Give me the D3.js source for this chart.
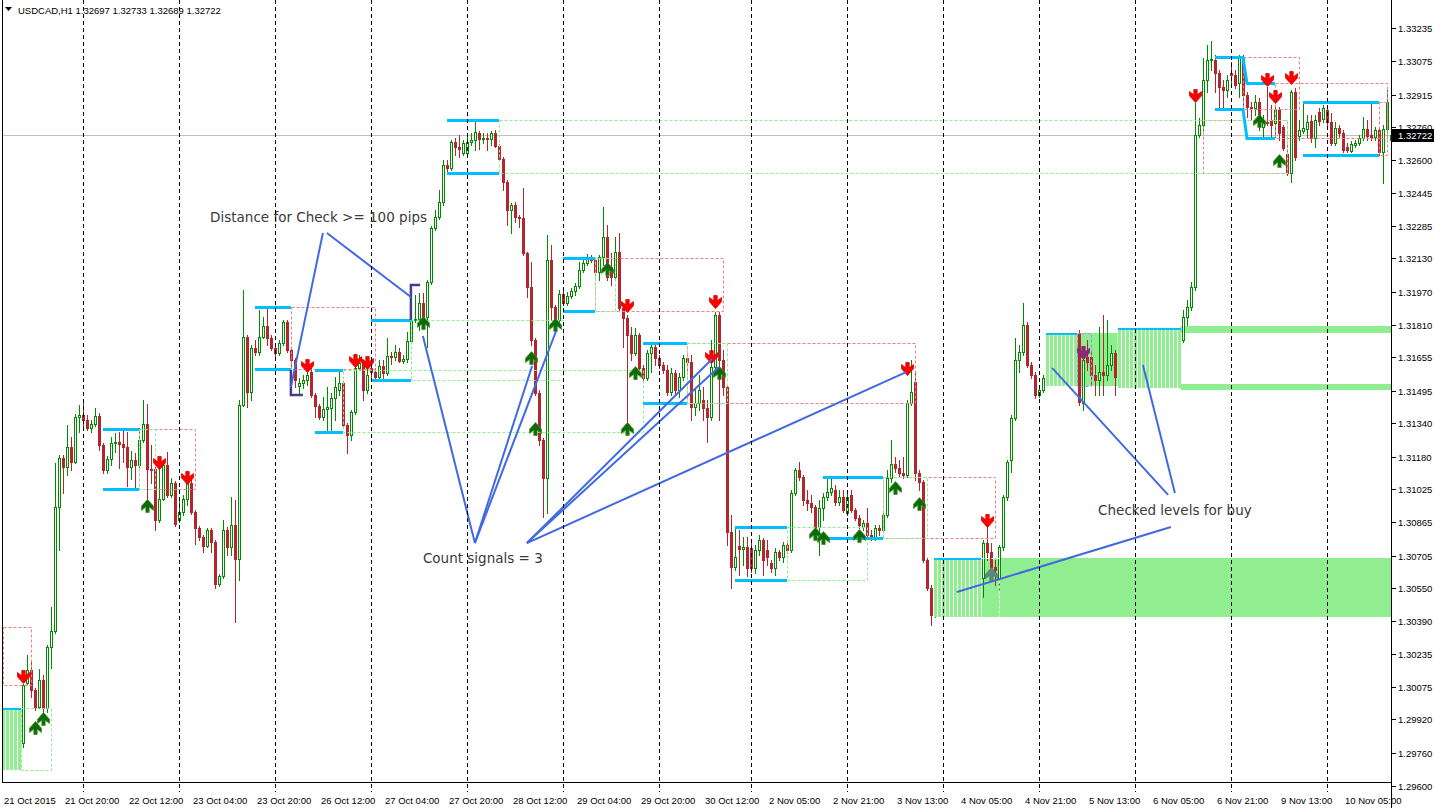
<!DOCTYPE html>
<html><head><meta charset="utf-8">
<script src="https://cdn.jsdelivr.net/npm/d3@7"></script>
<style>html,body{margin:0;padding:0;background:#fff;}svg{display:block;}</style>
</head><body>
<svg id="chart" width="1434" height="808"></svg>
<script>
// ---------------- DATA ----------------
const symbolName = "USDCAD,H1";
const priceTicks = ["1.33235","1.33075","1.32915","1.32760","1.32600","1.32445","1.32285","1.32130","1.31970","1.31810","1.31655","1.31495","1.31340","1.31180","1.31025","1.30865","1.30705","1.30550","1.30390","1.30235","1.30075","1.29920","1.29760","1.29600"];
const timeLabelText = ["21 Oct 2015","21 Oct 20:00","22 Oct 12:00","23 Oct 04:00","23 Oct 20:00","26 Oct 12:00","27 Oct 04:00","27 Oct 20:00","28 Oct 12:00","29 Oct 04:00","29 Oct 20:00","30 Oct 12:00","2 Nov 05:00","2 Nov 21:00","3 Nov 13:00","4 Nov 05:00","4 Nov 21:00","5 Nov 13:00","6 Nov 05:00","6 Nov 21:00","9 Nov 13:00","10 Nov 05:00"];
const timeLabelBar = [0,16,32,48,64,80,96,112,128,144,160,176,192,208,224,240,256,272,288,304,320,336];
const daySeparatorBar = [20,44,68,92,116,140,164,187,211,235,259,283,307,331];

const open = [1.29821,1.29773,1.29821,1.29869,1.29845,1.29807,1.30094,1.30156,1.30060,1.29978,
1.30108,1.29974,1.30266,1.30343,1.30938,1.31173,1.31129,1.31225,1.31153,1.31369,
1.31379,1.31355,1.31317,1.31336,1.31374,1.31235,1.31115,1.31168,1.31245,1.31249,
1.31240,1.31225,1.31129,1.31163,1.31139,1.31259,1.31336,1.31120,1.31120,1.30876,
1.30976,1.31139,1.30995,1.31053,1.30876,1.30914,1.30976,1.31053,1.30914,1.30838,
1.30794,1.30751,1.30828,1.30770,1.30569,1.30607,1.30828,1.30746,1.30852,1.30689,
1.31427,1.31753,1.31489,1.31701,1.31681,1.31753,1.31806,1.31749,1.31701,1.31677,
1.31725,1.31825,1.31691,1.31643,1.31518,1.31533,1.31547,1.31585,1.31475,1.31422,
1.31369,1.31408,1.31413,1.31461,1.31499,1.31533,1.31331,1.31283,1.31393,1.31605,
1.31629,1.31499,1.31605,1.31585,1.31561,1.31614,1.31581,1.31662,1.31657,1.31681,
1.31638,1.31648,1.31734,1.31835,1.31840,1.31917,1.31849,1.32017,1.32276,1.32328,
1.32400,1.32578,1.32564,1.32688,1.32664,1.32636,1.32636,1.32688,1.32698,1.32732,
1.32703,1.32708,1.32703,1.32732,1.32669,1.32607,1.32496,1.32362,1.32386,1.32328,
1.32324,1.32156,1.31993,1.31739,1.31485,1.31259,1.31077,1.32122,1.31897,1.31835,
1.31960,1.31917,1.31950,1.31974,1.31998,1.32075,1.32108,1.32132,1.32122,1.32065,
1.32136,1.32232,1.32088,1.32041,1.32160,1.31893,1.31845,1.31763,1.31677,1.31763,
1.31605,1.31557,1.31677,1.31705,1.31653,1.31619,1.31595,1.31489,1.31581,1.31499,
1.31561,1.31653,1.31633,1.31417,1.31437,1.31451,1.31413,1.31369,1.31609,1.31859,
1.31643,1.31513,1.30818,1.30650,1.30751,1.30737,1.30746,1.30742,1.30646,1.30732,
1.30780,1.30732,1.30670,1.30646,1.30722,1.30698,1.30756,1.30732,1.31005,1.31115,
1.31081,1.30972,1.30958,1.30938,1.30842,1.30934,1.30985,1.31009,1.31019,1.30962,
1.30985,1.30910,1.30995,1.30924,1.30886,1.30842,1.30862,1.30804,1.30794,1.30838,
1.30828,1.30900,1.31077,1.31144,1.31125,1.31101,1.31091,1.31437,1.31537,1.31101,
1.31057,1.30684,1.30550,1.30420,1.30468,1.30492,1.30516,1.30540,1.30564,1.30540,
1.30516,1.30540,1.30564,1.30588,1.30564,1.30598,1.30766,1.30722,1.30650,1.30598,
1.30746,1.30985,1.31163,1.31365,1.31643,1.31681,1.31811,1.31619,1.31571,1.31475,
1.31499,1.31557,1.31585,1.31619,1.31643,1.31667,1.31691,1.31662,1.31701,1.31773,
1.31437,1.31657,1.31657,1.31571,1.31547,1.31585,1.31571,1.31619,1.31677,1.31561,
1.31595,1.31619,1.31643,1.31633,1.31653,1.31681,1.31667,1.31643,1.31662,1.31691,
1.31681,1.31662,1.31691,1.31715,1.31701,1.31739,1.31849,1.31897,1.31993,1.32722,
1.32770,1.32986,1.33082,1.33082,1.33020,1.32952,1.32938,1.33020,1.33010,1.32972,
1.33092,1.32914,1.32856,1.32852,1.32880,1.32760,1.32784,1.32794,1.32780,1.32842,
1.32760,1.32631,1.32540,1.32928,1.32717,1.32741,1.32751,1.32789,1.32708,1.32832,
1.32799,1.32842,1.32784,1.32684,1.32756,1.32732,1.32664,1.32645,1.32674,1.32684,
1.32708,1.32751,1.32722,1.32712,1.32746,1.32640,1.32751,1.32697];

const high = [1.29869,1.29845,1.29893,1.29940,1.29917,1.30089,1.30228,1.30204,1.30070,1.30161,
1.30132,1.30276,1.30458,1.31149,1.31187,1.31187,1.31331,1.31273,1.31384,1.31427,
1.31437,1.31379,1.31355,1.31413,1.31389,1.31245,1.31182,1.31273,1.31293,1.31297,
1.31307,1.31297,1.31206,1.31197,1.31317,1.31451,1.31432,1.31235,1.31129,1.31153,
1.31163,1.31201,1.31077,1.31062,1.30981,1.30995,1.31101,1.31067,1.30924,1.30847,
1.30804,1.30838,1.30838,1.30780,1.30617,1.30876,1.30842,1.30985,1.30972,1.31451,
1.31979,1.31763,1.31715,1.31739,1.31883,1.31849,1.31893,1.31763,1.31715,1.31739,
1.31835,1.31835,1.31701,1.31653,1.31557,1.31571,1.31619,1.31605,1.31485,1.31432,
1.31465,1.31513,1.31485,1.31561,1.31595,1.31542,1.31341,1.31403,1.31619,1.31667,
1.31643,1.31619,1.31619,1.31605,1.31643,1.31643,1.31749,1.31681,1.31715,1.31701,
1.31667,1.31777,1.31907,1.31955,1.31965,1.31965,1.32027,1.32285,1.32362,1.32458,
1.32602,1.32602,1.32698,1.32708,1.32722,1.32698,1.32722,1.32732,1.32789,1.32741,
1.32732,1.32732,1.32741,1.32746,1.32679,1.32616,1.32506,1.32396,1.32400,1.32338,
1.32468,1.32160,1.32112,1.31749,1.31499,1.31269,1.32242,1.32194,1.31907,1.31979,
1.31979,1.31969,1.31989,1.32013,1.32112,1.32132,1.32151,1.32146,1.32132,1.32146,
1.32376,1.32290,1.32156,1.32232,1.32252,1.31907,1.31859,1.31801,1.31797,1.31773,
1.31619,1.31691,1.31729,1.31725,1.31667,1.31633,1.31619,1.31605,1.31595,1.31581,
1.31667,1.31667,1.31667,1.31509,1.31571,1.31513,1.31451,1.31739,1.31873,1.31873,
1.31691,1.31523,1.30900,1.30842,1.30828,1.30794,1.30794,1.30780,1.30756,1.30804,
1.30790,1.30780,1.30684,1.30742,1.30732,1.30770,1.30780,1.31019,1.31125,1.31153,
1.31091,1.31019,1.30995,1.30948,1.30972,1.31005,1.31077,1.31077,1.31043,1.31019,
1.31019,1.31009,1.31019,1.30934,1.30900,1.30876,1.30934,1.30828,1.30852,1.30852,
1.30910,1.31115,1.31259,1.31177,1.31163,1.31177,1.31451,1.31643,1.31581,1.31115,
1.31067,1.30694,1.30564,1.30492,1.30516,1.30540,1.30564,1.30588,1.30598,1.30578,
1.30564,1.30588,1.30612,1.30626,1.30612,1.30780,1.30842,1.30766,1.30684,1.30756,
1.30995,1.31163,1.31379,1.31749,1.31715,1.31917,1.31825,1.31633,1.31585,1.31523,
1.31571,1.31595,1.31643,1.31667,1.31691,1.31715,1.31729,1.31715,1.31749,1.31787,
1.31667,1.31739,1.31691,1.31619,1.31801,1.31859,1.31835,1.31715,1.31691,1.31619,
1.31643,1.31681,1.31691,1.31681,1.31701,1.31725,1.31715,1.31691,1.31715,1.31739,
1.31729,1.31710,1.31739,1.31763,1.31763,1.31883,1.31931,1.32017,1.32876,1.32804,
1.33092,1.33153,1.33172,1.33106,1.33034,1.32986,1.33010,1.33072,1.33034,1.33106,
1.33106,1.32928,1.32880,1.32914,1.32900,1.32818,1.32952,1.32866,1.32866,1.32856,
1.32770,1.32684,1.32938,1.32948,1.32794,1.32880,1.32818,1.32818,1.32818,1.32852,
1.32866,1.32856,1.32828,1.32784,1.32770,1.32746,1.32684,1.32693,1.32698,1.32722,
1.32808,1.32794,1.32876,1.32760,1.32760,1.32770,1.32938,1.32733];

const low = [1.29725,1.29701,1.29773,1.29797,1.29763,1.29787,1.30089,1.30026,1.29964,1.29974,
1.29954,1.29954,1.30166,1.30334,1.30732,1.31005,1.31091,1.31115,1.31149,1.31297,
1.31321,1.31307,1.31297,1.31326,1.31211,1.31101,1.31101,1.31139,1.31201,1.31125,
1.31153,1.31038,1.31072,1.31033,1.31129,1.31249,1.30972,1.31053,1.30828,1.30866,
1.30972,1.30985,1.30985,1.30847,1.30866,1.30900,1.30948,1.30905,1.30761,1.30780,
1.30722,1.30746,1.30722,1.30550,1.30559,1.30598,1.30708,1.30708,1.30386,1.30588,
1.31422,1.31417,1.31451,1.31667,1.31667,1.31749,1.31715,1.31691,1.31653,1.31667,
1.31715,1.31681,1.31605,1.31513,1.31485,1.31509,1.31523,1.31465,1.31369,1.31360,
1.31355,1.31302,1.31302,1.31355,1.31475,1.31321,1.31197,1.31259,1.31384,1.31595,
1.31451,1.31485,1.31557,1.31547,1.31547,1.31557,1.31571,1.31624,1.31643,1.31633,
1.31629,1.31633,1.31725,1.31825,1.31787,1.31835,1.31705,1.32008,1.32266,1.32319,
1.32386,1.32544,1.32554,1.32626,1.32616,1.32626,1.32626,1.32674,1.32650,1.32655,
1.32684,1.32650,1.32674,1.32664,1.32602,1.32458,1.32290,1.32252,1.32304,1.32280,
1.32146,1.31945,1.31715,1.31475,1.31235,1.30890,1.30910,1.31835,1.31821,1.31811,
1.31907,1.31907,1.31941,1.31955,1.31989,1.32065,1.32098,1.32112,1.32051,1.32027,
1.32098,1.32027,1.32003,1.32027,1.31883,1.31705,1.31341,1.31643,1.31667,1.31595,
1.31547,1.31547,1.31585,1.31619,1.31605,1.31581,1.31475,1.31475,1.31475,1.31465,
1.31547,1.31595,1.31355,1.31379,1.31403,1.31355,1.31249,1.31355,1.31585,1.31355,
1.31475,1.30756,1.30550,1.30636,1.30612,1.30660,1.30607,1.30626,1.30622,1.30708,
1.30612,1.30660,1.30626,1.30612,1.30684,1.30674,1.30718,1.30722,1.30995,1.31067,
1.30948,1.30924,1.30914,1.30828,1.30708,1.30876,1.30972,1.30995,1.30948,1.30948,
1.30914,1.30900,1.30914,1.30876,1.30838,1.30828,1.30790,1.30780,1.30780,1.30804,
1.30818,1.30890,1.31057,1.31105,1.31086,1.31077,1.31081,1.31427,1.31067,1.31019,
1.30674,1.30540,1.30372,1.30410,1.30434,1.30454,1.30492,1.30502,1.30516,1.30492,
1.30468,1.30502,1.30516,1.30540,1.30516,1.30506,1.30684,1.30612,1.30564,1.30540,
1.30732,1.30972,1.31105,1.31355,1.31585,1.31667,1.31609,1.31557,1.31461,1.31465,
1.31489,1.31523,1.31547,1.31585,1.31605,1.31633,1.31643,1.31619,1.31667,1.31427,
1.31403,1.31595,1.31523,1.31475,1.31475,1.31475,1.31547,1.31595,1.31475,1.31523,
1.31557,1.31585,1.31595,1.31585,1.31614,1.31643,1.31619,1.31595,1.31624,1.31653,
1.31633,1.31614,1.31653,1.31667,1.31667,1.31729,1.31811,1.31883,1.31979,1.32712,
1.32746,1.32928,1.33034,1.32928,1.32852,1.32852,1.32904,1.32962,1.32948,1.32904,
1.32842,1.32808,1.32794,1.32818,1.32746,1.32712,1.32770,1.32712,1.32712,1.32698,
1.32650,1.32530,1.32496,1.32602,1.32698,1.32732,1.32712,1.32688,1.32664,1.32770,
1.32784,1.32770,1.32674,1.32674,1.32712,1.32640,1.32640,1.32640,1.32664,1.32674,
1.32698,1.32698,1.32698,1.32698,1.32626,1.32492,1.32741,1.32689];

const close = [1.29773,1.29821,1.29869,1.29845,1.29807,1.30084,1.30156,1.30060,1.29978,1.30108,
1.29974,1.30266,1.30343,1.30938,1.31173,1.31129,1.31225,1.31153,1.31369,1.31379,
1.31355,1.31317,1.31336,1.31374,1.31235,1.31115,1.31168,1.31245,1.31249,1.31240,
1.31225,1.31129,1.31163,1.31139,1.31259,1.31336,1.31120,1.31115,1.30876,1.30976,
1.31139,1.30995,1.31053,1.30857,1.30914,1.30976,1.31053,1.30914,1.30838,1.30794,
1.30751,1.30828,1.30770,1.30569,1.30607,1.30828,1.30746,1.30852,1.30689,1.31427,
1.31753,1.31489,1.31701,1.31681,1.31753,1.31806,1.31749,1.31701,1.31677,1.31725,
1.31825,1.31691,1.31643,1.31547,1.31533,1.31547,1.31571,1.31475,1.31422,1.31369,
1.31408,1.31417,1.31461,1.31513,1.31533,1.31331,1.31283,1.31393,1.31605,1.31629,
1.31499,1.31571,1.31585,1.31561,1.31614,1.31581,1.31662,1.31657,1.31681,1.31638,
1.31648,1.31734,1.31835,1.31840,1.31917,1.31849,1.32017,1.32276,1.32328,1.32400,
1.32578,1.32564,1.32688,1.32664,1.32655,1.32684,1.32688,1.32698,1.32736,1.32703,
1.32708,1.32703,1.32732,1.32669,1.32607,1.32496,1.32362,1.32386,1.32328,1.32324,
1.32156,1.31993,1.31739,1.31485,1.31259,1.31077,1.32122,1.31897,1.31835,1.31960,
1.31917,1.31950,1.31974,1.31998,1.32075,1.32108,1.32132,1.32122,1.32065,1.32136,
1.32232,1.32041,1.32041,1.32160,1.31893,1.31845,1.31763,1.31677,1.31763,1.31605,
1.31557,1.31677,1.31705,1.31653,1.31619,1.31595,1.31489,1.31581,1.31499,1.31561,
1.31653,1.31633,1.31417,1.31437,1.31499,1.31413,1.31369,1.31609,1.31859,1.31643,
1.31513,1.30818,1.30650,1.30698,1.30737,1.30746,1.30646,1.30646,1.30732,1.30780,
1.30684,1.30698,1.30646,1.30722,1.30698,1.30756,1.30732,1.31005,1.31115,1.31081,
1.30972,1.30958,1.30938,1.30842,1.30934,1.30985,1.31009,1.31029,1.30962,1.30985,
1.30924,1.30985,1.30924,1.30886,1.30852,1.30862,1.30804,1.30794,1.30838,1.30828,
1.30900,1.31077,1.31144,1.31125,1.31101,1.31091,1.31437,1.31489,1.31101,1.31057,
1.30684,1.30550,1.30420,1.30468,1.30492,1.30516,1.30540,1.30564,1.30540,1.30516,
1.30540,1.30564,1.30588,1.30564,1.30598,1.30766,1.30722,1.30650,1.30636,1.30746,
1.30985,1.31153,1.31365,1.31643,1.31681,1.31811,1.31619,1.31571,1.31475,1.31499,
1.31557,1.31585,1.31619,1.31643,1.31667,1.31691,1.31662,1.31701,1.31739,1.31441,
1.31643,1.31633,1.31571,1.31547,1.31585,1.31571,1.31619,1.31677,1.31561,1.31595,
1.31619,1.31643,1.31633,1.31653,1.31681,1.31667,1.31643,1.31662,1.31691,1.31681,
1.31662,1.31691,1.31715,1.31701,1.31739,1.31849,1.31897,1.31993,1.32722,1.32770,
1.32986,1.33082,1.33087,1.33020,1.32952,1.32938,1.32986,1.33010,1.32962,1.33092,
1.32914,1.32856,1.32852,1.32880,1.32794,1.32784,1.32780,1.32770,1.32842,1.32732,
1.32660,1.32540,1.32928,1.32616,1.32746,1.32756,1.32784,1.32708,1.32794,1.32789,
1.32852,1.32784,1.32684,1.32756,1.32732,1.32650,1.32650,1.32679,1.32684,1.32708,
1.32751,1.32717,1.32712,1.32746,1.32640,1.32751,1.32880,1.32722];

// level lines [fromBar, toBar, price]
const levelLines = [[25,34,1.31312],[25,34,1.31024],[63,72,1.31897],[63,72,1.31600],
[78,85,1.31595],[78,85,1.31298],[92,102,1.31835],[92,102,1.31547],
[111,124,1.32794],[111,124,1.32540],[140,148,1.32132],[140,148,1.31878],
[160,171,1.31724],[160,171,1.31437],[183,196,1.30842],[183,196,1.30588],
[205,220,1.31082],[205,220,1.30789],[325,344,1.32880],[325,344,1.32626]];
const stepLineStart = 303;
const stepUpper = [1.33096,1.33096,1.33096,1.33096,1.33096,1.33096,1.33096,1.33096,1.32973,1.32973,1.32973,1.32973,1.32973,1.32973,1.32973,1.32973];
const stepLower = [1.32847,1.32847,1.32847,1.32847,1.32847,1.32847,1.32847,1.32847,1.32709,1.32709,1.32709,1.32709,1.32709,1.32709,1.32709,1.32709];
// dashed boxes [fromBar, toBar, topPrice, bottomPrice]
const redBoxes = [[300,321,1.32794,1.32540],[0,7,1.30362,1.30084],[34,48,1.31312,1.31024],[72,93,1.31897,1.31600],
[148,180,1.32132,1.31878],[171,228,1.31724,1.31437],[220,248,1.31082,1.30789],
[310,324,1.33096,1.32847],[318,346,1.32973,1.32709],[344,346,1.32880,1.32626]];
const greenBoxes = [[4.4,12,1.29974,1.29677],[34,38,1.31312,1.31024],[85,160,1.31595,1.31298],
[102,140,1.31835,1.31547],[124,321,1.32794,1.32540],[148,153,1.32132,1.31878],
[171,181,1.31724,1.31437],[196,216,1.30842,1.30588],[220,231,1.31082,1.30789]];
const purpleBoxes = [[268.5,272,1.31772,1.31518]];
const whiteBoxes = [[244.5,249,1.30693,1.30410]];
// histogram (striped) zones [fromBar, toBar, top, bottom]
const stripeZones = [[0,4,1.29974,1.29677],[233,244,1.30693,1.30410],[261,268,1.31772,1.31518],[279,294,1.31796,1.31509]];
// filled zones [fromBar, toBar, top, bottom]
const fillZones = [[244.5,348,1.30693,1.30410],[268.4,278.6,1.31772,1.31518],[294.3,348,1.31806,1.31772],[294.3,348,1.31528,1.31499]];
// signal arrows [bar, price]
const sellArrows = [[5,1.30118],[39,1.31144],[46,1.31072],[76,1.31609],[88,1.31633],[91,1.31624],[156,1.31897],[178,1.31916],[177,1.31652],[226,1.31595],[246,1.30866],[298,1.32904],[316,1.32981],[318,1.32899],[322,1.32990]];
const buyArrows = [[8,1.29883],[10,1.29926],[36,1.30948],[105,1.31825],[132,1.31657],[133,1.31317],[138,1.31816],[151,1.32084],[158,1.31585],[156,1.31317],[179,1.31585],[203,1.30813],[205,1.30794],[214,1.30804],[223,1.31034],[229,1.30957],[314,1.32794],[319,1.32602]];
const mutedSellArrows = [[270,1.31672]];
const mutedBuyArrows = [[247,1.30621]];
// annotations
const noteLines = [
 [[79.9,1.32252],[71.9,1.31513]],[[80.9,1.32252],[101.9,1.31945]],
 [[117.9,1.30765],[104.9,1.31758]],[[117.9,1.30765],[132.2,1.31614]],[[117.9,1.30765],[138.2,1.31782]],
 [[130.9,1.30765],[177.2,1.31648]],[[130.9,1.30765],[178.9,1.31609]],[[130.9,1.30765],[225.7,1.31585]],
 [[262.2,1.31605],[291.2,1.30996]],[[284.9,1.31619],[292.9,1.31005]],[[238.4,1.30530],[291.9,1.30842]]];
const brackets = [
 [[71.9,1.31595],[71.9,1.31475],[74.9,1.31475]],
 [[104.2,1.32003],[101.9,1.32003],[101.9,1.31835]]];
const noteTexts = [["Distance for Check >= 100 pips",51.7,1.32304],["Count signals = 3",104.9,1.30670],["Checked levels for buy",273.7,1.30900]];

// ---------------- DRAW ----------------
const svg = d3.select('#chart');
const n = open.length;
const frame = {left: 2, right: 1391, top: 0, bottom: 782};
const x = d3.scaleLinear().domain([0, n - 1]).range([3.3, 3.3 + 4 * (n - 1)]);
const y = d3.scaleLinear().domain([1.29600, 1.33235]).range([786, 28]);
const px = i => Math.round(x(i));
const py = p => Math.round(y(p));
const BULL = '#008c00', BEAR = '#b3262d', LGREEN = '#90ee90', CYAN = '#00bfff';
const SMALL = '9.5px "Liberation Sans", Arial, sans-serif';

svg.append('rect').attr('width', 1434).attr('height', 808).attr('fill', '#fff');
svg.append('defs').append('clipPath').attr('id', 'plotclip').append('rect')
  .attr('x', frame.left + 1).attr('y', frame.top).attr('width', frame.right - frame.left - 1).attr('height', frame.bottom - frame.top);
const plot = svg.append('g').attr('clip-path', 'url(#plotclip)');

// filled zones (behind price)
plot.append('g').selectAll('rect').data(fillZones).join('rect')
  .attr('x', d => x(d[0])).attr('width', d => x(d[1]) - x(d[0]))
  .attr('y', d => py(d[2])).attr('height', d => py(d[3]) - py(d[2]))
  .attr('fill', LGREEN);

// period separators
svg.append('g').selectAll('line').data(daySeparatorBar).join('line')
  .attr('x1', d => px(d) + 0.5).attr('x2', d => px(d) + 0.5)
  .attr('y1', frame.top).attr('y2', frame.bottom + 10)
  .attr('stroke', '#000').attr('stroke-dasharray', '4,3');

// bid line
const lastClose = close[n - 1];
plot.append('line').attr('x1', frame.left).attr('x2', frame.right)
  .attr('y1', py(lastClose) + 0.5).attr('y2', py(lastClose) + 0.5).attr('stroke', '#c0c0c0');

// candles
const bars = d3.range(n).map(i => ({i, o: open[i], h: high[i], l: low[i], c: close[i], up: close[i] >= open[i]}));
const gc = plot.append('g');
gc.selectAll('line').data(bars).join('line')
  .attr('x1', d => px(d.i) + 0.5).attr('x2', d => px(d.i) + 0.5)
  .attr('y1', d => py(d.h)).attr('y2', d => py(d.l) + 1)
  .attr('stroke', d => d.up ? BULL : BEAR);
gc.selectAll('rect.bull').data(bars.filter(d => d.up)).join('rect').attr('class', 'bull')
  .attr('x', d => px(d.i) - 0.5).attr('width', 2)
  .attr('y', d => py(d.c) + 0.5).attr('height', d => Math.max(1, py(d.o) - py(d.c)))
  .attr('fill', '#fff').attr('stroke', BULL);
gc.selectAll('rect.bear').data(bars.filter(d => !d.up)).join('rect').attr('class', 'bear')
  .attr('x', d => px(d.i) - 1).attr('width', 3)
  .attr('y', d => py(d.o)).attr('height', d => Math.max(1, py(d.c) - py(d.o) + 1))
  .attr('fill', BEAR);

// striped histogram zones
const stripeBars = stripeZones.flatMap(z => d3.range(z[0], z[1] + 1).map(i => ({i, t: z[2], b: z[3]})));
plot.append('g').selectAll('rect').data(stripeBars).join('rect')
  .attr('x', d => px(d.i) - 1).attr('width', 3)
  .attr('y', d => py(d.t)).attr('height', d => py(d.b) - py(d.t))
  .attr('fill', LGREEN);
plot.append('g').selectAll('line').data(stripeZones).join('line')
  .attr('x1', d => px(d[0]) - 1).attr('x2', d => px(d[1]) + 2)
  .attr('y1', d => py(d[2]) + 1).attr('y2', d => py(d[2]) + 1)
  .attr('stroke', CYAN).attr('stroke-width', 2);

// dashed boxes
function boxes(data, color) {
  plot.append('g').selectAll('rect').data(data).join('rect')
    .attr('x', d => px(d[0]) + 0.5).attr('width', d => px(d[1]) - px(d[0]))
    .attr('y', d => py(d[2]) + 0.5).attr('height', d => py(d[3]) - py(d[2]))
    .attr('fill', 'none').attr('stroke', color).attr('stroke-dasharray', '3,2');
}
boxes(redBoxes, '#f08080');
boxes(greenBoxes, LGREEN);
boxes(purpleBoxes, '#a58ee6');
boxes(whiteBoxes, '#ffffff');

// level lines
plot.append('g').selectAll('line').data(levelLines).join('line')
  .attr('x1', d => px(d[0])).attr('x2', d => px(d[1]))
  .attr('y1', d => py(d[2]) + 0.5).attr('y2', d => py(d[2]) + 0.5)
  .attr('stroke', CYAN).attr('stroke-width', 3);
const stepLine = d3.line().x((d, k) => px(stepLineStart + k)).y(d => py(d) + 0.5);
plot.append('g').selectAll('path').data([stepUpper, stepLower]).join('path')
  .attr('d', stepLine).attr('fill', 'none').attr('stroke', CYAN).attr('stroke-width', 3);

// arrows
const downArrow = 'M-1.7,-7.5L1.7,-7.5L1.7,-2.2L6,-5.5L6,-1.2L0,5.5L-6,-1.2L-6,-5.5L-1.7,-2.2Z';
const upArrow = 'M-1.7,7.5L1.7,7.5L1.7,2.2L6,5.5L6,1.2L0,-5.5L-6,1.2L-6,5.5L-1.7,2.2Z';
function arrows(data, path, fill, stroke) {
  plot.append('g').selectAll('path').data(data).join('path')
    .attr('d', path).attr('transform', d => `translate(${px(d[0]) + 0.5},${y(d[1])})`)
    .attr('fill', fill).attr('stroke', stroke).attr('stroke-width', 0.8);
}
arrows(sellArrows, downArrow, '#ff0000', '#d40000');
arrows(buyArrows, upArrow, '#0a6b0a', '#4a8f2a');
arrows(mutedSellArrows, downArrow, '#8e2a7e', '#7a2070');
arrows(mutedBuyArrows, upArrow, '#5e8c7a', '#4c7a68');

// annotations
const pl = d3.line().x(d => x(d[0])).y(d => y(d[1]));
plot.append('g').selectAll('path').data(brackets).join('path')
  .attr('d', pl).attr('fill', 'none').attr('stroke', '#483d8b').attr('stroke-width', 2.5);
plot.append('g').selectAll('path').data(noteLines).join('path')
  .attr('d', pl).attr('fill', 'none').attr('stroke', '#4169e1').attr('stroke-width', 2);
plot.append('g').selectAll('text').data(noteTexts).join('text')
  .attr('x', d => x(d[1])).attr('y', d => y(d[2]))
  .style('font', '13.5px "DejaVu Sans", sans-serif').attr('fill', '#3a3a3a')
  .text(d => d[0]);

// frame & axes
svg.append('line').attr('x1', frame.left + 0.5).attr('x2', frame.left + 0.5).attr('y1', frame.top).attr('y2', frame.bottom).attr('stroke', '#000');
svg.append('line').attr('x1', frame.right + 0.5).attr('x2', frame.right + 0.5).attr('y1', frame.top).attr('y2', 808).attr('stroke', '#000');
svg.append('line').attr('x1', frame.left).attr('x2', frame.right + 1).attr('y1', frame.bottom + 0.5).attr('y2', frame.bottom + 0.5).attr('stroke', '#000');

const ya = svg.append('g');
ya.selectAll('line').data(priceTicks).join('line')
  .attr('x1', frame.right + 1).attr('x2', frame.right + 5)
  .attr('y1', d => py(+d) + 0.5).attr('y2', d => py(+d) + 0.5).attr('stroke', '#000');
ya.selectAll('text').data(priceTicks).join('text')
  .attr('x', frame.right + 7).attr('y', d => py(+d) + 3.5)
  .style('font', SMALL).attr('fill', '#000').text(d => d);

// bid label
const bidY = py(lastClose);
svg.append('rect').attr('x', frame.right + 1).attr('y', bidY - 6).attr('width', 1434 - frame.right - 1).attr('height', 13).attr('fill', '#000');
svg.append('text').attr('x', frame.right + 7).attr('y', bidY + 4).style('font', SMALL).attr('fill', '#fff').text(lastClose.toFixed(5));

// time labels
svg.append('g').selectAll('text').data(timeLabelText).join('text')
  .attr('x', (d, k) => Math.max(4, px(timeLabelBar[k]) - 2)).attr('y', 804)
  .style('font', SMALL).attr('fill', '#000').text(d => d);

// title
svg.append('path').attr('d', 'M5,7L12,7L8.5,11Z').attr('fill', '#000');
svg.append('text').attr('x', 18).attr('y', 14).style('font', SMALL).attr('fill', '#000')
  .text(`${symbolName} ${open[n-1].toFixed(5)} ${high[n-1].toFixed(5)} ${low[n-1].toFixed(5)} ${close[n-1].toFixed(5)}`);
</script>
</body></html>
